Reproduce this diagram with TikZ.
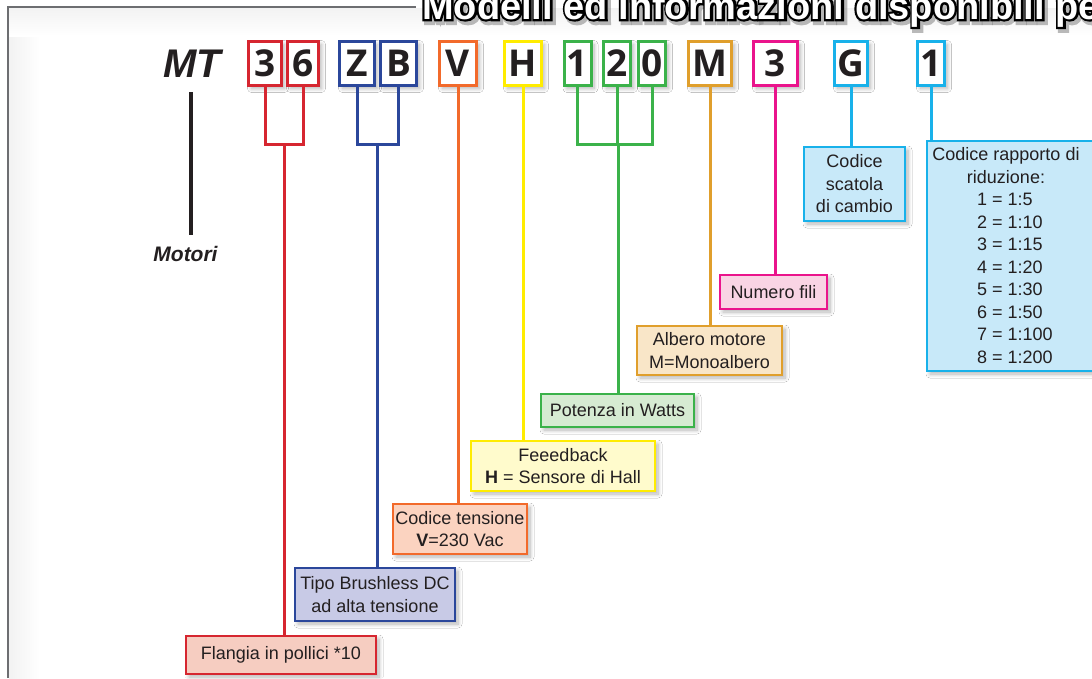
\documentclass[tikz,border=0pt]{standalone}
\usepackage{fontspec}
\setmainfont{Liberation Sans}
\newfontfamily\codefont{Open Sans}
\usetikzlibrary{shadows.blur}
\definecolor{txt}{HTML}{231F20}
\definecolor{frm}{HTML}{6D6E71}
\definecolor{cred}{HTML}{D62630}
\definecolor{cblue}{HTML}{2B479B}
\definecolor{corange}{HTML}{F26A2B}
\definecolor{cyellow}{HTML}{FFEC00}
\definecolor{cgreen}{HTML}{3BB24A}
\definecolor{cgold}{HTML}{E09F2C}
\definecolor{cmag}{HTML}{EA148C}
\definecolor{ccyan}{HTML}{18B1EA}
\definecolor{fred}{HTML}{F6CDC1}
\definecolor{fblue}{HTML}{C8CAE6}
\definecolor{forange}{HTML}{FBD3C0}
\definecolor{fyellow}{HTML}{FFFBCC}
\definecolor{fgreen}{HTML}{D6EBD2}
\definecolor{fgold}{HTML}{F9E6C8}
\definecolor{fmag}{HTML}{F9D4E4}
\definecolor{fcyan}{HTML}{C8E9F9}
\newcommand\lblfont{\fontsize{18}{22.5}\selectfont}
\newcommand\digfont{\codefont\bfseries\fontsize{37}{37}\selectfont}
\newcommand\ttlfont{\bfseries\fontsize{38}{38}\selectfont}
\newcommand\ttltext{Modelli ed informazioni disponibili pe}
\newcommand\strokeon[2]{\special{pdf:literal direct 1 Tr #1 w #2 RG}}
\newcommand\strokeoff{\special{pdf:literal direct 0 Tr}}
\begin{document}
\begin{tikzpicture}[x=1pt,y=-1pt,
  myshadow/.style={blur shadow={shadow xshift=3pt, shadow yshift=-3pt, shadow blur radius=4pt, shadow blur steps=8, shadow opacity=30}},
  digit/.style={draw=#1, line width=3pt, fill=white, minimum height=44pt, inner sep=0pt, font=\digfont, text=txt, myshadow},
  lbox/.style 2 args={draw=#1, fill=#2, line width=2.5pt, inner sep=0pt, align=center, font=\lblfont, text=txt, myshadow},
  conn/.style={draw=#1, line width=3pt},
  ttl/.style={anchor=base west, font=\ttlfont, inner sep=0pt}]
\useasboundingbox (0,0) rectangle (1092,678);
\fill[white] (0,0) rectangle (1092,678);
% soft inner shading of the frame
\shade[left color=black!5, right color=white] (9,8) rectangle (40,678);
\shade[top color=black!5, bottom color=white] (9,8) rectangle (1092,36);
\draw[frm, line width=2.2pt] (8,678) -- (8,7) -- (416,7);
% title (outlined white text with soft shadow)
\node[ttl, text=black!40, opacity=0.6, xshift=2.5pt, yshift=-3pt] (tshadow) at (422,19) {\strokeon{6}{0.55 0.55 0.55}\ttltext\strokeoff};
\node[ttl, text=black] (toutline) at (422,19) {\strokeon{4.5}{0 0 0}\ttltext\strokeoff};
\node[ttl, text=white] (title) at (422,19) {\ttltext};
% MT and Motori
\node[font=\bfseries\itshape\fontsize{40}{40}\selectfont, text=txt, anchor=base, inner sep=0pt] (mt) at (192,77) {MT};
\node[font=\bfseries\itshape\fontsize{21}{21}\selectfont, text=txt, anchor=base, inner sep=0pt] (motori) at (185.5,261) {Motori};
\coordinate (mtl1) at (191,92);
\coordinate (mtl2) at (191,235);
\draw[txt, line width=4pt] (mtl1) -- (mtl2);
% code digits
\node[digit=cred, minimum width=33pt] (d3) at (265,63.5) {3};
\node[digit=cred, minimum width=31pt] (d6) at (303,63.5) {6};
\node[digit=cblue, minimum width=35pt] (dZ) at (357,63.5) {Z};
\node[digit=cblue, minimum width=36pt] (dB) at (398.5,63.5) {B};
\node[digit=corange, minimum width=37pt] (dV) at (458,63.5) {V};
\node[digit=cyellow, minimum width=37pt] (dH) at (523,63.5) {H};
\node[digit=cgreen, minimum width=27pt] (d1) at (577.5,63.5) {1};
\node[digit=cgreen, minimum width=27pt] (d2) at (617,63.5) {2};
\node[digit=cgreen, minimum width=27pt] (d0) at (652,63.5) {0};
\node[digit=cgold, minimum width=43pt] (dM) at (710,63.5) {M};
\node[digit=cmag, minimum width=44pt] (dN) at (775.5,63.5) {3};
\node[digit=ccyan, minimum width=33pt] (dG) at (851,63.5) {G};
\node[digit=ccyan, minimum width=27pt] (dR) at (931,63.5) {1};
% label boxes
\node[lbox={cred}{fred}, minimum width=190pt, minimum height=38pt] (flan) at (281,655) {Flangia in pollici *10};
\node[lbox={cblue}{fblue}, minimum width=160pt, minimum height=53pt] (tipo) at (375,594.5) {Tipo Brushless DC\\ad alta tensione};
\node[lbox={corange}{forange}, minimum width=134pt, minimum height=50pt] (tens) at (460,529) {Codice tensione\\\textbf{V}=230 Vac};
\node[lbox={cyellow}{fyellow}, minimum width=184pt, minimum height=50pt] (feed) at (563,466) {Feeedback\\\textbf{H} = Sensore di Hall};
\node[lbox={cgreen}{fgreen}, minimum width=153pt, minimum height=33pt] (pot) at (617.5,410.5) {Potenza in Watts};
\node[lbox={cgold}{fgold}, minimum width=145pt, minimum height=49pt] (alb) at (709.5,350.5) {Albero motore\\M=Monoalbero};
\node[lbox={cmag}{fmag}, minimum width=107pt, minimum height=34pt] (num) at (773.5,292) {Numero fili};
\node[lbox={ccyan}{fcyan}, minimum width=101pt, minimum height=74pt] (scat) at (854.5,184) {Codice\\scatola\\di cambio};
\node[lbox={ccyan}{fcyan}, minimum width=168pt, minimum height=230pt] (rap) at (1011,256) {};
\node[align=center, font=\lblfont, text=txt, inner sep=0pt] (raptxt) at (1006,255.5) {Codice rapporto di\\riduzione:\\
\hspace*{18pt}\makebox[76pt][l]{1 = 1:5}\\
\hspace*{18pt}\makebox[76pt][l]{2 = 1:10}\\
\hspace*{18pt}\makebox[76pt][l]{3 = 1:15}\\
\hspace*{18pt}\makebox[76pt][l]{4 = 1:20}\\
\hspace*{18pt}\makebox[76pt][l]{5 = 1:30}\\
\hspace*{18pt}\makebox[76pt][l]{6 = 1:50}\\
\hspace*{18pt}\makebox[76pt][l]{7 = 1:100}\\
\hspace*{18pt}\makebox[76pt][l]{8 = 1:200}};
% connectors
\coordinate (j36) at (284,144);
\coordinate (jZB) at (377,144);
\coordinate (j120) at (618,144);
\draw[conn=cred] (d3.south) |- (j36) -| (d6.south);
\draw[conn=cred] (j36) -- (j36 |- flan.north);
\draw[conn=cblue] (dZ.south) |- (jZB) -| (dB.south);
\draw[conn=cblue] (jZB) -- (jZB |- tipo.north);
\draw[conn=corange] (dV.south) -- (dV.south |- tens.north);
\draw[conn=cyellow] (dH.south) -- (dH.south |- feed.north);
\draw[conn=cgreen] (d1.south) |- (j120) -| (d0.south);
\draw[conn=cgreen] (d2.south |- j120) -- (d2.south);
\draw[conn=cgreen] (j120) -- (j120 |- pot.north);
\draw[conn=cgold] (dM.south) -- (dM.south |- alb.north);
\draw[conn=cmag] (dN.south) -- (dN.south |- num.north);
\draw[conn=ccyan] (dG.south) -- (dG.south |- scat.north);
\draw[conn=ccyan] (dR.south) -- (dR.south |- rap.north);
\end{tikzpicture}
\end{document}
